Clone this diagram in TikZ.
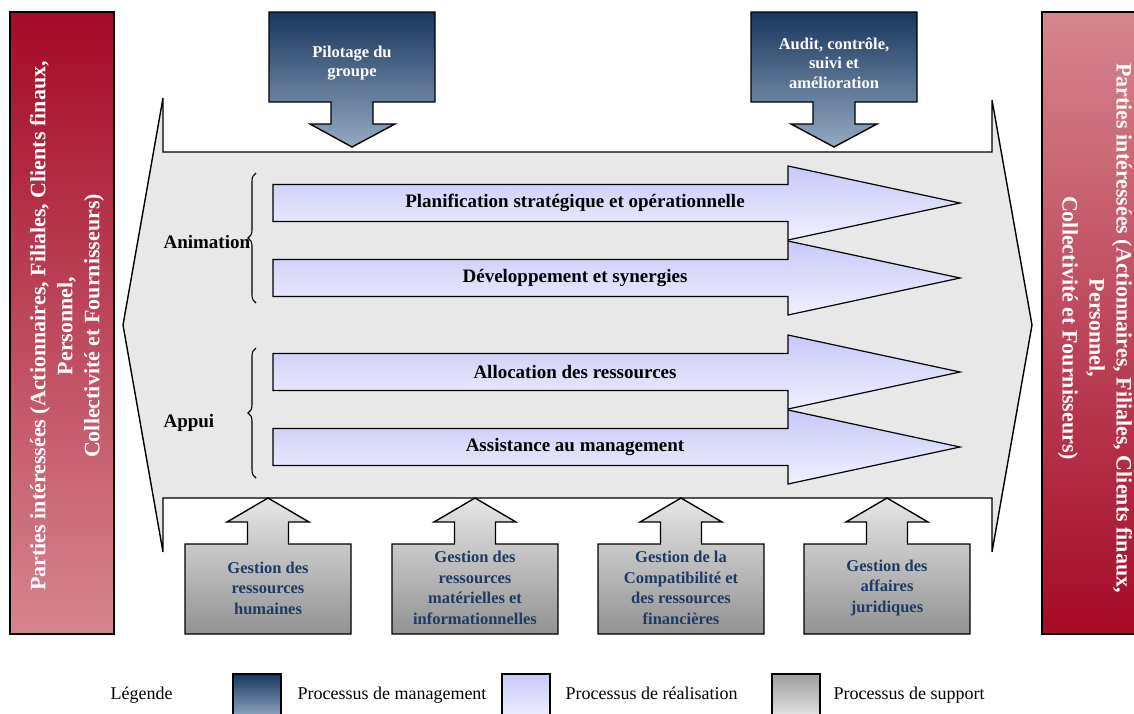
\documentclass[tikz,border=0pt]{standalone}
\usepackage{fontspec}
\setmainfont{Liberation Serif}
\usetikzlibrary{decorations.pathreplacing}
\definecolor{barDark}{HTML}{A50A26}
\definecolor{barLight}{HTML}{D6858F}
\definecolor{mgTop}{HTML}{17375E}
\definecolor{mgBot}{HTML}{95AAC2}
\definecolor{reTop}{HTML}{C8C8F8}
\definecolor{reBot}{HTML}{F0F0FF}
\definecolor{suTop}{HTML}{E6E6E6}
\definecolor{suBot}{HTML}{929292}
\definecolor{bigFill}{HTML}{E8E8E8}
\definecolor{navyText}{HTML}{1F3B64}
\tikzset{
  outl/.style={draw=black, line width=1.4pt, line join=miter},
  mgshape/.style={outl, top color=mgTop, bottom color=mgBot},
  reshape/.style={outl, line width=1.2pt, top color=reTop, bottom color=reBot},
  sushape/.style={outl, top color=suTop, bottom color=suBot},
  bartext/.style={text=white, font=\bfseries\fontsize{22}{27}\selectfont, align=center},
  mgtext/.style={text=white, font=\bfseries\fontsize{16.5}{19.5}\selectfont, align=center},
  sutext/.style={text=navyText, font=\bfseries\fontsize{16.5}{20.5}\selectfont, align=center},
  retext/.style={text=black, font=\bfseries\fontsize{19}{22}\selectfont},
  grouptext/.style={text=black, font=\bfseries\fontsize{19}{22}\selectfont, anchor=west},
  legtext/.style={text=black, font=\fontsize{18}{21}\selectfont, anchor=base west},
  bracestyle/.style={draw=black, line width=1.1pt, decorate, decoration={brace, amplitude=8pt}},
}
\begin{document}
\begin{tikzpicture}[x=1pt,y=-1pt]
\useasboundingbox (0,0) rectangle (1134,713);

% side bars
\path[outl, top color=barDark, bottom color=barLight] (10,12) rectangle (114,634);
\path[outl, top color=barLight, bottom color=barDark] (1042,12) rectangle (1145,634);
\node[bartext, rotate=90] (leftbar) at (67,326) {Parties intéressées (Actionnaires, Filiales, Clients finaux,\\Personnel,\\Collectivité et Fournisseurs)};
\node[bartext, rotate=-90] (rightbar) at (1095,328) {Parties intéressées (Actionnaires, Filiales, Clients finaux,\\Personnel,\\Collectivité et Fournisseurs)};

% big background shape
\path[outl, fill=bigFill] (163,98) -- (163,152) -- (992,152) -- (992,100) -- (1032,325) -- (992,552) -- (992,498) -- (163,498) -- (163,552) -- (123,325) -- cycle;

% management shapes
\path[mgshape] (269,12) -- (435,12) -- (435,102) -- (373,102) -- (373,124) -- (395,124) -- (352,147) -- (310,124) -- (331,124) -- (331,102) -- (269,102) -- cycle;
\node[mgtext] (pilotage) at (352,63) {Pilotage du\\groupe};
\path[mgshape] (751,12) -- (917,12) -- (917,102) -- (855,102) -- (855,124) -- (877,124) -- (834,147) -- (791,124) -- (813,124) -- (813,102) -- (751,102) -- cycle;
\node[mgtext] (audit) at (834,63) {Audit, contrôle,\\suivi et\\amélioration};

% realisation arrows
\foreach \cy/\nm/\txt in {203/plan/{Planification stratégique et opérationnelle},278/dev/{Développement et synergies},372/alloc/{Allocation des ressources},447/assist/{Assistance au management}}{
  \path[reshape] (273,\cy-18.5) -- (788,\cy-18.5) -- (788,\cy-37) -- (960,\cy) -- (788,\cy+37) -- (788,\cy+18.5) -- (273,\cy+18.5) -- cycle;
  \node[retext] (\nm) at (575,\cy) {\txt};
}

% braces and group labels
\draw[bracestyle] (256,303) -- (256,173);
\draw[bracestyle] (256,478) -- (256,348);
\node[grouptext] (animation) at (160,242) {Animation};
\node[grouptext] (appui) at (160,423) {Appui};

% support shapes
\foreach \cx in {268,475,681,887}{
  \path[sushape] (\cx-83,634) -- (\cx-83,544) -- (\cx-20.5,544) -- (\cx-20.5,522) -- (\cx-41,522) -- (\cx,498) -- (\cx+41,522) -- (\cx+20.5,522) -- (\cx+20.5,544) -- (\cx+83,544) -- (\cx+83,634) -- cycle;
}
\node[sutext] (grh) at (268,588) {Gestion des\\ressources\\humaines};
\node[sutext] (grm) at (475,588) {Gestion des\\ressources\\matérielles et\\informationnelles};
\node[sutext] (gcf) at (681,588) {Gestion de la\\Compatibilité et\\des ressources\\financières};
\node[sutext] (gaj) at (887,588) {Gestion des\\affaires\\juridiques};

% legend
\node[legtext] (legende) at (107,699) {Légende};
\path[outl, line width=1.2pt, top color=mgTop, bottom color=mgBot] (233,674) rectangle (281,718);
\node[legtext] (legmg) at (294,699) {Processus de management};
\path[outl, line width=1.2pt, top color=reTop, bottom color=reBot] (502,674) rectangle (550,718);
\node[legtext] (legre) at (562,699) {Processus de réalisation};
\path[outl, line width=1.2pt, top color=suBot!90!white, bottom color=suTop] (772,674) rectangle (820,718);
\node[legtext] (legsu) at (830,699) {Processus de support};
\end{tikzpicture}
\end{document}
